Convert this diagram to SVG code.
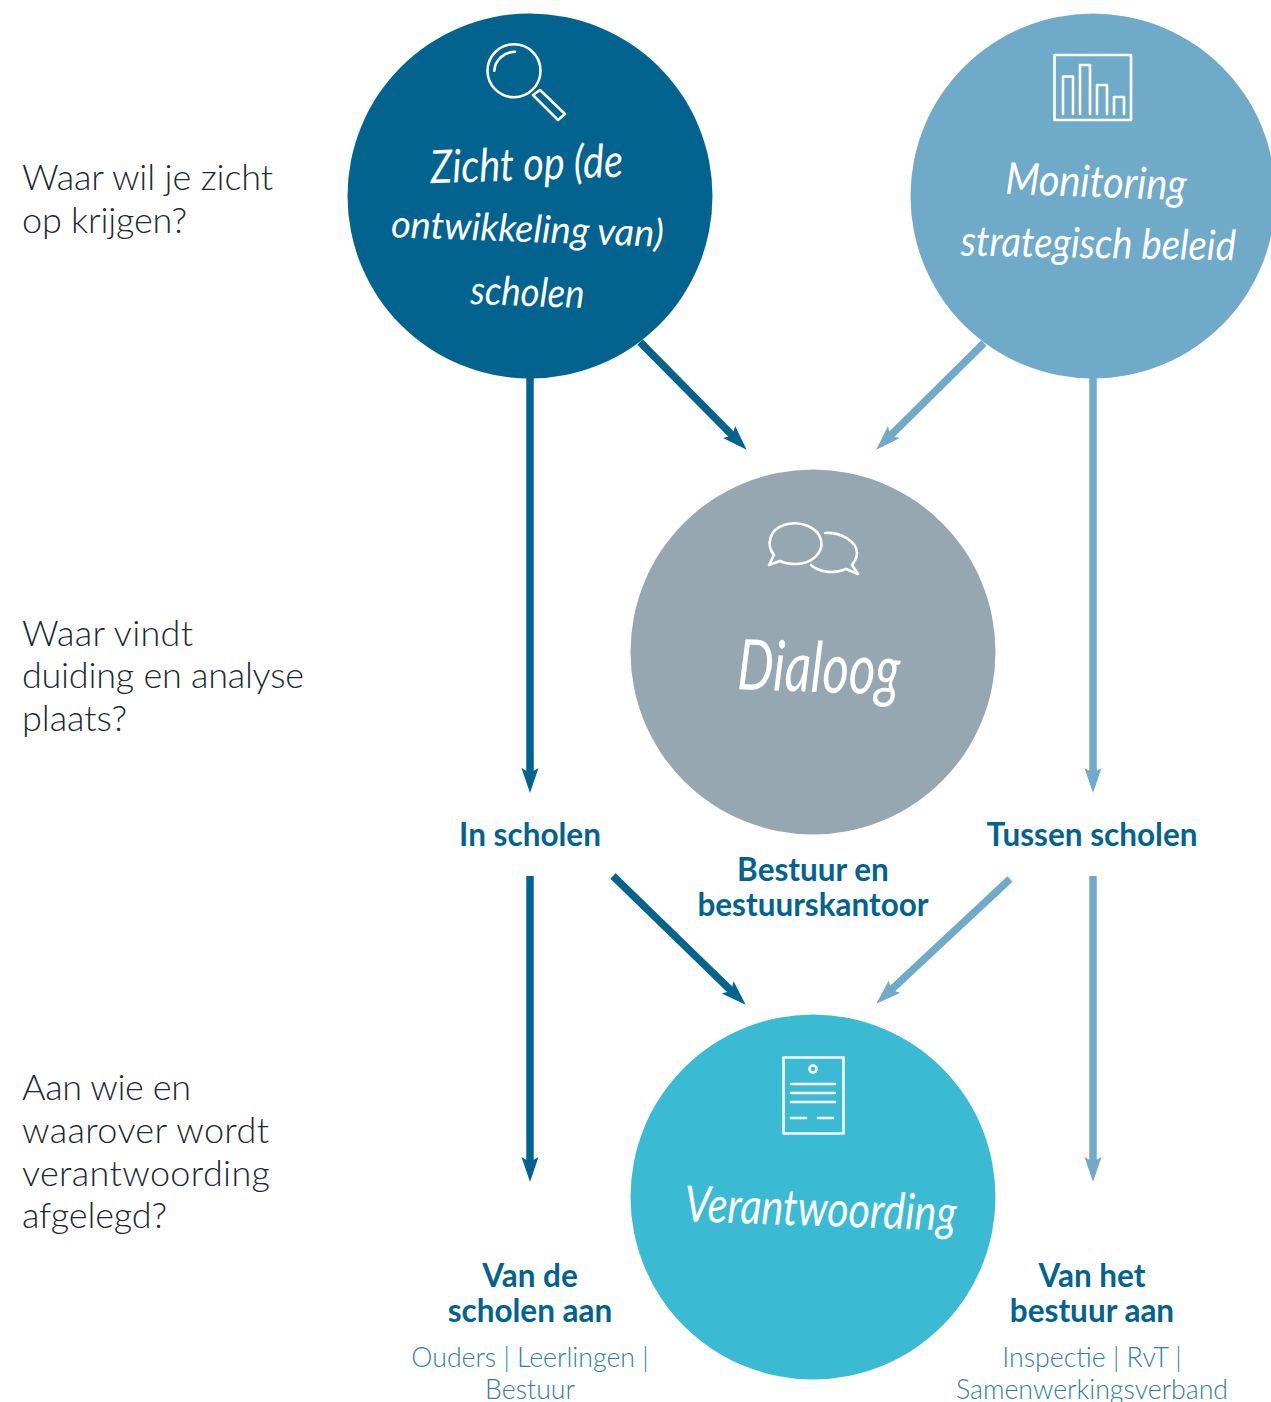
<svg xmlns="http://www.w3.org/2000/svg" width="1271" height="1402" viewBox="0 0 1271 1402">
<style>
.q{font-family:"Lato","Liberation Sans",sans-serif;font-weight:300;font-size:36px;fill:#1c2a33}
.b{font-family:"Lato","Liberation Sans",sans-serif;font-weight:700;font-size:31.500px;fill:#02638f;text-anchor:middle}
.s{font-family:"Lato","Liberation Sans",sans-serif;font-weight:300;font-size:26.700px;fill:#2f7fa6;text-anchor:middle}
.h{font-family:"Lato","Liberation Sans",sans-serif;font-style:italic;fill:#fff;text-anchor:middle;font-weight:400}
.i{fill:none;stroke:#fff;stroke-width:2.600;stroke-linecap:round;stroke-linejoin:round}
.d{fill:none;stroke:#02638f;stroke-width:7.500}
.l{fill:none;stroke:#6faac9;stroke-width:7.500}
</style>
<defs>
<marker id="ad" markerUnits="userSpaceOnUse" markerWidth="25" markerHeight="20" viewBox="0 0 25 20" refX="6" refY="10" orient="auto"><path d="M25 10L0 1.500L5 10L0 18.500Z" fill="#02638f"/></marker>
<marker id="al" markerUnits="userSpaceOnUse" markerWidth="25" markerHeight="20" viewBox="0 0 25 20" refX="6" refY="10" orient="auto"><path d="M25 10L0 1.500L5 10L0 18.500Z" fill="#6faac9"/></marker>
</defs>
<g id="connectors">
<path class="d" marker-end="url(#ad)" d="M530 378V774"/>
<path class="d" marker-end="url(#ad)" d="M640 342L733.300 436.300"/>
<path class="l" marker-end="url(#al)" d="M984 343L889.700 436.300"/>
<path class="l" marker-end="url(#al)" d="M1093 378V774"/>
<path class="d" marker-end="url(#ad)" d="M530 876V1163"/>
<path class="d" marker-end="url(#ad)" d="M613 876L732 991.500"/>
<path class="l" marker-end="url(#al)" d="M1010 879L890.200 990.700"/>
<path class="l" marker-end="url(#al)" d="M1093 876V1163"/>
</g>
<g id="vraag-1"><text class="q" x="22" y="190" textLength="251">Waar wil je zicht</text><text class="q" x="22" y="233" textLength="165">op krijgen?</text></g>
<g id="vraag-2"><text class="q" x="22" y="646" textLength="171">Waar vindt</text><text class="q" x="22" y="688" textLength="282">duiding en analyse</text><text class="q" x="22" y="731" textLength="105">plaats?</text></g>
<g id="vraag-3"><text class="q" x="22" y="1100" textLength="169">Aan wie en</text><text class="q" x="22" y="1143" textLength="247">waarover wordt</text><text class="q" x="22" y="1186" textLength="248">verantwoording</text><text class="q" x="22" y="1228" textLength="145">afgelegd?</text></g>
<g id="zicht">
<circle cx="530" cy="196" r="182.500" fill="#02638f"/>
<g class="i"><circle cx="514" cy="70.700" r="26.500"/><path d="M494.300 70.700C495 60 504 52 515 51.700M533 95L540 90L565 114L558 120Z"/></g>
<text class="h" font-size="46" transform="translate(527 180) rotate(-2) scale(.86 1)">Zicht op (de</text>
<text class="h" font-size="38" transform="translate(527 242) rotate(2)">ontwikkeling van)</text>
<text class="h" font-size="40" transform="translate(527 306) rotate(2) scale(.91 1)">scholen</text>
</g>
<g id="monitoring">
<circle cx="1093" cy="196" r="182.500" fill="#6faac9"/>
<g class="i"><rect x="1054.500" y="55" width="76.500" height="65"/><path d="M1063 114V76.500H1073V114M1080 114V65H1090V114M1097 114V85H1107V114M1114 114V97H1124V114"/></g>
<text class="h" font-size="44" transform="translate(1095.500 197) rotate(2) scale(.9 1)">Monitoring</text>
<text class="h" font-size="42" transform="translate(1098 258) rotate(1) scale(.91 1)">strategisch beleid</text>
</g>
<g id="dialoog">
<circle cx="813" cy="652" r="182.500" fill="#96a7b2"/>
<g class="i"><path d="M774 555C766 545 769 530 784 525C800 520 818 527 821 540C824 553 811 564 796 564C789 564 784 563 780 561L769 565Z"/><path d="M825 533C840 532 857 541 857 553C857 558 855 561 852 565L858 574L846 569C832 575 817 571 811 565"/></g>
<text class="h" font-size="70" transform="translate(818 692) rotate(2) scale(.73 1)">Dialoog</text>
</g>
<g id="verantwoording">
<circle cx="813" cy="1197" r="182.500" fill="#3bbbd3"/>
<g class="i"><rect x="783.500" y="1057.500" width="60" height="76"/><circle cx="813" cy="1069" r="3.500"/><path d="M791 1084H835M791 1093H835M791 1102H835M791 1118H806M818 1118H833"/></g>
<text class="h" font-size="50" transform="translate(820 1226) rotate(2) scale(.825 1)">Verantwoording</text>
</g>
<g id="in-scholen"><text class="b" x="530" y="846">In scholen</text></g>
<g id="tussen-scholen"><text class="b" x="1092" y="846">Tussen scholen</text></g>
<g id="bestuur"><text class="b" x="813" y="881">Bestuur en</text><text class="b" x="813" y="916">bestuurskantoor</text></g>
<g id="van-de-scholen"><text class="b" x="530" y="1287">Van de</text><text class="b" x="530" y="1322">scholen aan</text><text class="s" x="530" y="1367">Ouders | Leerlingen |</text><text class="s" x="530" y="1399">Bestuur</text></g>
<g id="van-het-bestuur"><text class="b" x="1092" y="1287">Van het</text><text class="b" x="1092" y="1322">bestuur aan</text><text class="s" x="1092" y="1367">Inspectie | RvT |</text><text class="s" x="1092" y="1399">Samenwerkingsverband</text></g>
</svg>
